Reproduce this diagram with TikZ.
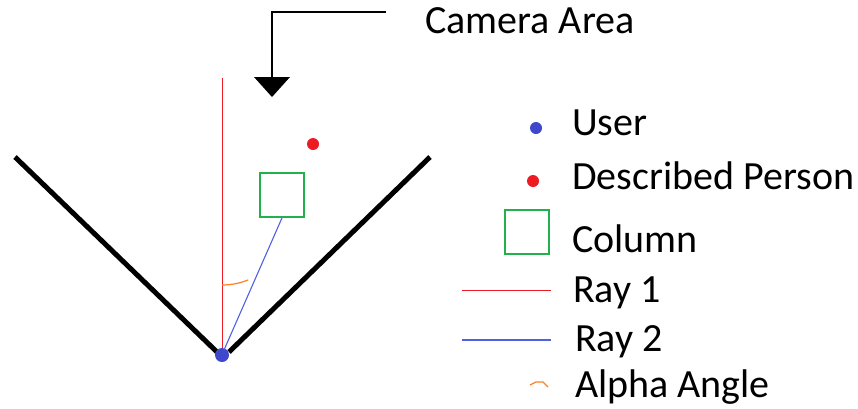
\documentclass[tikz,border=0pt]{standalone}
\usepackage{fontspec}
\setmainfont{Carlito}
\usetikzlibrary{arrows.meta}
\definecolor{ublue}{HTML}{3F48CC}
\definecolor{pred}{HTML}{ED1C24}
\definecolor{cgreen}{HTML}{22B14C}
\definecolor{aorange}{HTML}{FF7F27}
\definecolor{rblue}{HTML}{5060E0}
\begin{document}
\begin{tikzpicture}[x=1pt,y=-1pt,
  lbl/.style={anchor=base west,inner sep=0pt,font=\fontsize{40}{48}\selectfont},
  dotnode/.style={circle,inner sep=0pt,minimum size=#1},
  wall/.style={line width=5pt,black},
  colbox/.style={draw=cgreen,line width=1.8pt,minimum width=44pt,minimum height=44pt,inner sep=0pt}]
\useasboundingbox (0,0) rectangle (858,408);
% camera arrow
\coordinate (ca1) at (386,12);
\coordinate (ca2) at (272,12);
\coordinate (ca3) at (272,78);
\draw[line width=2pt] (ca1) -- (ca2) -- (ca3);
\fill (254,77) -- (290,77) -- (272,97) -- cycle;
\node[lbl] (cam) at (425,33) {Camera Area};
% walls
\draw[wall] (15,157) -- (217,352);
\draw[wall] (229,352) -- (430,157);
% ray 1
\coordinate (r1top) at (222,78);
\coordinate (r1bot) at (222,350);
\draw[pred,line width=1pt] (r1bot) -- (r1top);
\node[dotnode=14pt,fill=ublue] (user) at (222,355) {};
% column and person
\node[colbox] (column) at (282,195) {};
\node[dotnode=12pt,fill=pred] (person) at (313,144) {};
% ray 2
\draw[rblue,line width=1.1pt] (user.center) ++(2,-5) -- (column.south);
% alpha
\draw[aorange,line width=1.2pt] (222,285) arc[start angle=90,end angle=68,radius=70];
% legend
\node[dotnode=12pt,fill=ublue] (luser) at (536,128) {};
\node[lbl] (tuser) at (572,135) {User};
\node[dotnode=12pt,fill=pred] (lperson) at (533,181) {};
\node[lbl] (tperson) at (572,189) {Described Person};
\node[colbox] (lcol) at (527,232) {};
\node[lbl] (tcol) at (572,252) {Column};
\coordinate (lr1a) at (462,290); \coordinate (lr1b) at (551,290);
\draw[pred,line width=1pt] (lr1a) -- (lr1b);
\node[lbl] (tr1) at (573,302) {Ray 1};
\coordinate (lr2a) at (462,340); \coordinate (lr2b) at (551,340);
\draw[rblue,line width=1.1pt] (lr2a) -- (lr2b);
\node[lbl] (tr2) at (575,351) {Ray 2};
\draw[aorange,line width=1.2pt] (530,385) -- (536,382) -- (543,382) -- (548,387);
\node[lbl] (talpha) at (575,397) {Alpha Angle};
\end{tikzpicture}
\end{document}
